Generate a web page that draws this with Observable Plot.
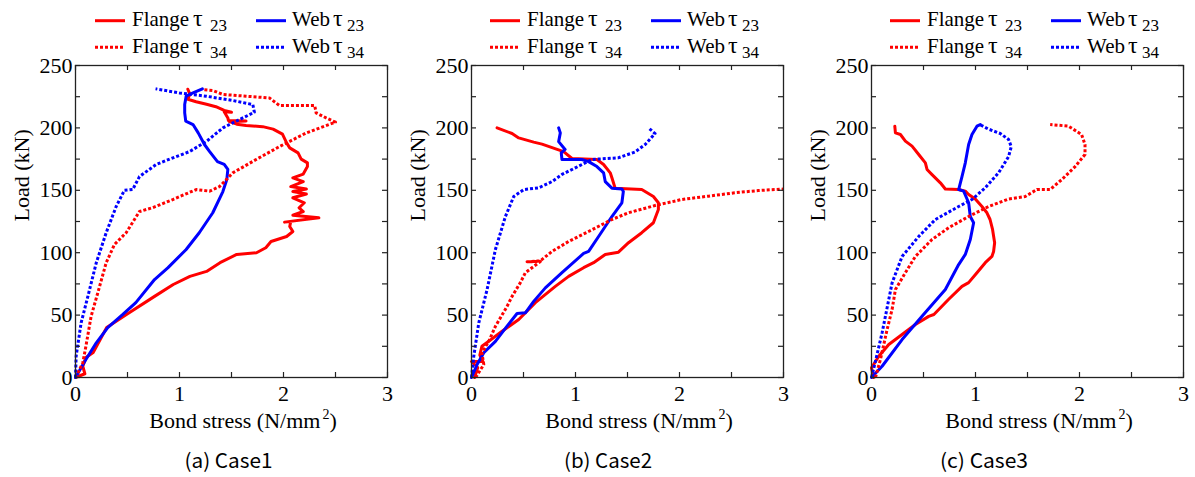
<!DOCTYPE html>
<html><head><meta charset="utf-8">
<script src="https://cdn.jsdelivr.net/npm/d3@7"></script>
<script src="https://cdn.jsdelivr.net/npm/@observablehq/plot@0.6"></script>
<style>
body{margin:0;background:#fff;}
#root{position:relative;width:1195px;height:477px;overflow:hidden;}
.panel{position:absolute;top:0;width:400px;height:477px;}
.panel svg{position:absolute;left:0;top:0;}
</style></head>
<body><div id="root"></div>
<script>
// ---------- data (bond stress N/mm², load kN) ----------
const xTicks = [0, 1, 2, 3];
const xMinor = [0, 0.5, 1, 1.5, 2, 2.5, 3];
const yTicks = [0, 50, 100, 150, 200, 250];
const yMinor = [0, 25, 50, 75, 100, 125, 150, 175, 200, 225, 250];
const captions = ["(a) Case1", "(b) Case2", "(c) Case3"];
const legendNames = ["Flange", "Web"];
const legendSubs = ["23", "34"];

// Case 1
const case1Flange23 = [[0,0],[0.09,3],[0.07,9],[0.1,16],[0.17,20],[0.3,40],[0.49,50.5],[0.76,65],[0.94,74.5],[1.1,81],[1.26,85],[1.39,92],[1.55,98.6],[1.74,100],[1.83,104],[1.88,109],[2.03,113],[2.09,117],[2.06,121],[2.07,125],[2.01,124.5],[2.34,128],[2.09,130],[2.19,133],[2.15,136],[2.2,140],[2.09,144],[2.22,147],[2.09,149],[2.22,151],[2.07,153],[2.19,157],[2.09,160],[2.19,163],[2.23,169],[2.23,172],[2.17,175],[2.14,180],[2.06,184],[2.03,188],[1.99,195],[1.9,199],[1.8,201],[1.64,202],[1.55,203],[1.48,205],[1.64,205.5],[1.47,206],[1.465,208],[1.43,213],[1.5,212.5],[1.43,214],[1.35,217],[1.26,219],[1.16,221],[1.08,223],[1.1,227],[1.08,231]];
const case1Web23 = [[0,0],[0.1,14.4],[0.2,27.8],[0.31,40],[0.455,50.5],[0.58,60],[0.76,78.5],[0.89,88],[1.064,102.6],[1.19,116],[1.32,132],[1.417,149],[1.455,158.7],[1.465,166.7],[1.43,170.7],[1.365,173],[1.29,181],[1.24,186.7],[1.18,196],[1.13,202.7],[1.06,205.4],[1.05,212],[1.05,218.7],[1.064,225.4],[1.13,228],[1.22,231.3]];
const case1Flange34 = [[0,0],[0.07,11.75],[0.1,25],[0.15,49],[0.215,68],[0.295,92],[0.375,106.6],[0.487,116],[0.615,133],[0.74,136],[0.936,142.6],[1.16,150.6],[1.29,149.3],[1.385,153],[1.513,164],[1.737,174.7],[1.96,185],[2.22,196],[2.5,204.6],[2.41,208],[2.314,212],[2.3,218],[1.96,218],[1.865,224],[1.64,225.4],[1.417,226.8],[1.32,230],[1.22,230.8]];
const case1Web34 = [[0,0],[0.006,17],[0.054,43.8],[0.119,65],[0.2,92],[0.295,116],[0.391,137],[0.47,150],[0.55,150.6],[0.615,161],[0.776,170.7],[0.936,176],[1.096,181],[1.256,189],[1.417,200],[1.577,206.7],[1.72,212.6],[1.705,218.7],[1.51,222],[1.256,225.4],[1.0,228],[0.77,231.3]];

// Case 2
const case2Flange23 = [[0.03,0],[0.06,8],[0,12.8],[0.11,12.8],[0.08,18],[0.1,25],[0.166,29],[0.294,37],[0.454,46.5],[0.614,60],[0.806,73],[0.934,81],[1.078,88],[1.174,92],[1.286,98.6],[1.413,100.4],[1.51,108],[1.637,116],[1.749,124],[1.797,134.6],[1.797,140],[1.749,145],[1.637,150.6],[1.381,151.7],[1.35,160],[1.334,164],[1.27,170.7],[1.206,174.7],[0.966,175.5],[0.886,181],[0.678,187],[0.598,188.6],[0.454,192],[0.39,195.5],[0.246,200]];
const case2Web23 = [[0,0],[0.054,10.4],[0.118,19.8],[0.23,29],[0.34,41],[0.438,51.3],[0.518,51.8],[0.598,61],[0.71,71.8],[0.87,84],[1.078,99.4],[1.126,101],[1.222,113],[1.35,129],[1.446,140],[1.46,149],[1.446,151],[1.35,151.7],[1.286,157],[1.27,164],[1.206,169],[1.126,173],[1.06,174.7],[0.87,174.7],[0.863,180],[0.9,182.7],[0.838,189],[0.854,196],[0.838,200]];
const case2Flange34 = [[0.04,0],[0.118,10.4],[0.1,19.8],[0.166,29],[0.23,41],[0.342,57],[0.39,65],[0.47,76],[0.518,84],[0.662,93],[0.534,92.7],[0.662,93.5],[0.774,101],[0.934,109],[1.126,117],[1.35,126.6],[1.51,132],[1.765,137.8],[2.02,142.6],[2.277,145.3],[2.53,148],[2.757,149.8],[3.0,151]];
const case2Web34 = [[0,0],[0.022,17],[0.07,43.8],[0.15,70.5],[0.23,102.6],[0.326,129],[0.406,145],[0.502,150.6],[0.646,152],[0.774,157],[0.87,162.7],[0.998,168],[1.158,174.7],[1.41,176],[1.57,180.6],[1.67,186.7],[1.765,195.5],[1.702,200]];

// Case 3
const case3Flange23 = [[0.02,0],[0,7.7],[0.07,17],[0.166,26.4],[0.294,34.5],[0.422,42.5],[0.55,49],[0.6,50.5],[0.74,62.5],[0.87,73],[0.934,76],[1.014,84],[1.094,92],[1.158,97],[1.174,101],[1.184,108],[1.164,118.6],[1.14,126.6],[1.11,132],[1.062,137],[0.998,143],[0.934,146.6],[0.902,149.3],[0.838,150.6],[0.71,151],[0.662,156],[0.582,162.6],[0.534,166.7],[0.518,172],[0.454,178.7],[0.39,185.4],[0.326,189.4],[0.278,194.7],[0.23,196],[0.224,201.4]];
const case3Web23 = [[0,0],[0.102,9],[0.294,30.4],[0.486,49],[0.71,70.5],[0.838,90.5],[0.902,98.6],[0.95,110.6],[0.982,124],[0.95,129],[0.934,140],[0.886,149.3],[0.838,150.6],[0.87,161],[0.902,172],[0.934,186.7],[0.966,194.7],[1.014,201.4],[1.046,202.7]];
const case3Flange34 = [[0.038,0],[0.086,14.4],[0.15,38.5],[0.198,54.5],[0.23,70.5],[0.326,84],[0.422,97],[0.582,110.6],[0.742,120],[0.934,129],[1.126,137],[1.318,143],[1.478,145],[1.59,150.6],[1.718,150.6],[1.83,158.6],[1.958,169],[2.053,178.7],[2.053,186.7],[2.02,194.7],[1.894,201.4],[1.718,202.7]];
const case3Web34 = [[0,0],[0.038,13],[0.102,35.8],[0.198,75.8],[0.294,97],[0.454,113],[0.614,126.6],[0.838,137],[0.966,142.6],[1.094,152],[1.222,164],[1.318,177],[1.344,185],[1.318,190.7],[1.238,195.5],[1.126,199],[1.046,202.5]];

// ---------- styling ----------
const RED = "#ff0000", BLUE = "#0000ff";
const DOT = "3 2";
const SERIF = "Liberation Serif";

const panels = [
  {left: 0,   ml: 75, mr: 13, legLeft: 95, ylab: 21, xlabC: 243, capC: 228.5, caption: captions[0],
   series: [case1Flange23, case1Web23, case1Flange34, case1Web34]},
  {left: 400, ml: 71, mr: 17, legLeft: 90, ylab: 17, xlabC: 239, capC: 208, caption: captions[1],
   series: [case2Flange23, case2Web23, case2Flange34, case2Web34]},
  {left: 800, ml: 71, mr: 17, legLeft: 90, ylab: 17, xlabC: 239, capC: 184, caption: captions[2],
   series: [case3Flange23, case3Web23, case3Flange34, case3Web34]}
];
const styles = [
  {stroke: RED, dotted: false}, {stroke: BLUE, dotted: false},
  {stroke: RED, dotted: true}, {stroke: BLUE, dotted: true}
];

const W = 400, H = 477, MT = 65, MB = 100;
const root = document.getElementById("root");

for (const p of panels) {
  const fw = W - p.ml - p.mr, fh = H - MT - MB, tk = 5;
  const lineMarks = p.series.map((s, i) => Plot.line(s, Object.assign(
    {x: d => d[0], y: d => d[1], stroke: styles[i].stroke, strokeWidth: 3,
     strokeLinecap: styles[i].dotted ? "butt" : "round", strokeLinejoin: "round"},
    styles[i].dotted ? {strokeDasharray: DOT} : {}
  )));
  const svg = Plot.plot({
    width: W, height: H,
    marginLeft: p.ml, marginRight: p.mr, marginTop: MT, marginBottom: MB,
    x: {domain: [0, 3]},
    y: {domain: [0, 250]},
    marks: [
      ...lineMarks,
      Plot.frame({stroke: "#222", strokeWidth: 1.3}),
      Plot.tickX(xMinor, {x: d => d, insetTop: fh - tk, stroke: "#222", strokeWidth: 1.2}),
      Plot.tickX(xMinor, {x: d => d, insetBottom: fh - tk, stroke: "#222", strokeWidth: 1.2}),
      Plot.tickY(yMinor, {y: d => d, insetRight: fw - tk, stroke: "#222", strokeWidth: 1.2}),
      Plot.tickY(yMinor, {y: d => d, insetLeft: fw - tk, stroke: "#222", strokeWidth: 1.2}),
      Plot.axisX(xTicks, {tickSize: 0, tickPadding: 8, tickFormat: d => String(d), label: null, fontSize: 22}),
      Plot.axisY(yTicks, {tickSize: 0, tickPadding: 3, tickFormat: d => String(d), label: null, fontSize: 22}),
      Plot.text(["Load (kN)"], {frameAnchor: "left", rotate: -90, dx: p.ylab - p.ml, fontSize: 22})
    ]
  });
  const sel = d3.select(svg);
  sel.attr("font-family", SERIF).attr("font-size", 22).style("font-family", SERIF).style("background", "transparent");
  sel.selectAll("text").attr("font-family", SERIF).style("font-family", SERIF);

  const div = document.createElement("div");
  div.className = "panel";
  div.style.left = p.left + "px";
  div.appendChild(svg);
  root.appendChild(div);

  const g = sel.append("g")
    .attr("fill", "#000").attr("font-family", SERIF).attr("text-anchor", "start");
  // legend
  const rowLineY = [20.7, 47.3], rowBase = [25.5, 53];
  for (let r = 0; r < 2; r++) {
    for (let c = 0; c < 2; c++) {
      const st = styles[r * 2 + c];
      const x0 = p.legLeft + c * 161;
      const ln = g.append("line").attr("x1", x0).attr("x2", x0 + 30)
        .attr("y1", rowLineY[r]).attr("y2", rowLineY[r])
        .attr("stroke", st.stroke).attr("stroke-width", 3);
      if (st.dotted) ln.attr("stroke-dasharray", DOT);
      const nameX = x0 + (c === 0 ? 37 : 36);
      const tauX = x0 + (c === 0 ? 98 : 77);
      const subX = x0 + (c === 0 ? 115 : 91);
      g.append("text").attr("x", nameX).attr("y", rowBase[r]).attr("font-size", 21).text(legendNames[c]);
      g.append("text").attr("x", tauX).attr("y", rowBase[r]).attr("font-size", 24).text("τ");
      g.append("text").attr("x", subX).attr("y", rowBase[r] + 5).attr("font-size", 17).text(legendSubs[r]);
    }
  }
  // x label
  const xl = g.append("text").attr("x", p.xlabC).attr("y", 427.5).attr("text-anchor", "middle").attr("font-size", 22);
  xl.append("tspan").text("Bond stress (N/mm");
  xl.append("tspan").attr("font-size", 14).attr("dy", -9).attr("dx", 2).text("2");
  xl.append("tspan").attr("dy", 9).text(")");
  // caption
  g.append("text").attr("x", p.capC).attr("y", 468).attr("text-anchor", "middle")
    .attr("font-family", "Noto Sans CJK JP").style("font-family", "Noto Sans CJK JP").attr("font-size", 20)
    .attr("textLength", 88).attr("lengthAdjust", "spacingAndGlyphs")
    .text(p.caption);
}
</script>
</body></html>
